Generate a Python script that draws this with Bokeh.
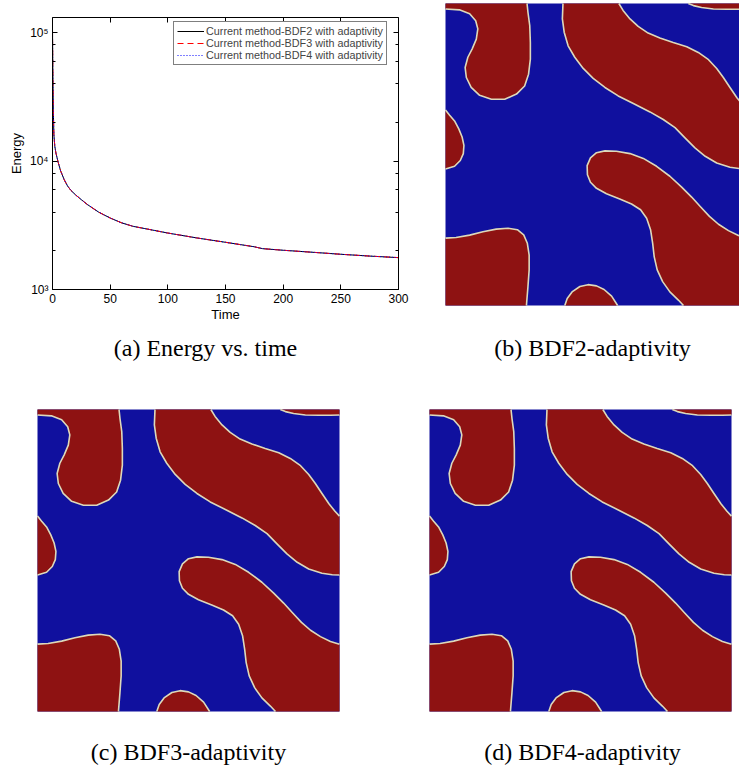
from bokeh.plotting import figure
from bokeh.models import (Range1d, LinearAxis, LogAxis, SingleIntervalTicker, LogTicker,
                          Legend, LegendItem, LogScale, LinearScale)
from bokeh.embed import file_html
from bokeh.resources import INLINE
from bokeh.core.properties import value

# ---------------- data: energy vs time ----------------
time = [0, 0.3, 0.7, 1.2, 2, 3, 5, 7, 10, 13, 16, 20, 25, 30, 40, 50, 60, 70, 80,
        100, 125, 150, 175, 182, 200, 225, 250, 275, 300]
energy_bdf2 = [1.05e5, 5.0e4, 2.5e4, 1.6e4, 1.3e4, 1.15e4, 9.7e3, 8.4e3, 7.2e3, 6.4e3,
               5.9e3, 5.45e3, 5.0e3, 4.6e3, 4.0e3, 3.6e3, 3.3e3, 3.1e3, 2.98e3,
               2.75e3, 2.52e3, 2.33e3, 2.15e3, 2.08e3, 2.02e3, 1.95e3, 1.88e3, 1.82e3, 1.77e3]
energy_bdf3 = [1.05e5, 5.0e4, 2.5e4, 1.6e4, 1.3e4, 1.15e4, 9.7e3, 8.4e3, 7.2e3, 6.4e3,
               5.9e3, 5.45e3, 5.0e3, 4.6e3, 4.0e3, 3.6e3, 3.3e3, 3.1e3, 2.98e3,
               2.75e3, 2.52e3, 2.33e3, 2.15e3, 2.08e3, 2.02e3, 1.95e3, 1.88e3, 1.82e3, 1.77e3]
energy_bdf4 = [1.05e5, 5.0e4, 2.5e4, 1.6e4, 1.3e4, 1.15e4, 9.7e3, 8.4e3, 7.2e3, 6.4e3,
               5.9e3, 5.45e3, 5.0e3, 4.6e3, 4.0e3, 3.6e3, 3.3e3, 3.1e3, 2.98e3,
               2.75e3, 2.52e3, 2.33e3, 2.15e3, 2.08e3, 2.02e3, 1.95e3, 1.88e3, 1.82e3, 1.77e3]
series_labels = ["Current method-BDF2 with adaptivity",
                 "Current method-BDF3 with adaptivity",
                 "Current method-BDF4 with adaptivity"]
time_limits = [0, 300]
energy_limits = [1000, 10 ** (5 + 15 / 128.5)]
x_tick_interval = 50
y_tick_labels = {1000: "10\u00b3", 10000: "10\u2074", 100000: "10\u2075"}
captions = ["(a) Energy vs. time", "(b) BDF2-adaptivity",
            "(c) BDF3-adaptivity", "(d) BDF4-adaptivity"]

# ---------------- data: phase field interfaces (unit square) ----------------
domain = [0.0, 1.0]
A_u = [0.0, 0.046, 0.080, 0.100, 0.107, 0.102, 0.088, 0.074, 0.065, 0.069, 0.085, 0.113, 0.152,
       0.196, 0.235, 0.262, 0.275, 0.281, 0.281, 0.279, 0.273, 0.270]
A_v = [0.982, 0.979, 0.966, 0.943, 0.916, 0.882, 0.849, 0.822, 0.788, 0.755, 0.722, 0.696, 0.683,
       0.683, 0.700, 0.727, 0.766, 0.816, 0.871, 0.927, 0.971, 1.0]
Blo_u = [0.389, 0.387, 0.393, 0.406, 0.428, 0.456, 0.489, 0.528, 0.572, 0.622, 0.677, 0.721,
         0.760, 0.793, 0.826, 0.860, 0.898, 0.942, 0.976, 1.0]
Blo_v = [1.0, 0.949, 0.905, 0.860, 0.822, 0.785, 0.752, 0.722, 0.694, 0.669, 0.641, 0.616,
         0.589, 0.555, 0.522, 0.494, 0.472, 0.458, 0.453, 0.452]
Bhi_u = [0.574, 0.588, 0.611, 0.638, 0.671, 0.710, 0.754, 0.799, 0.837, 0.871, 0.898, 0.920,
         0.942, 0.965, 0.985, 1.0]
Bhi_v = [1.0, 0.977, 0.949, 0.924, 0.902, 0.886, 0.871, 0.857, 0.838, 0.814, 0.785, 0.755,
         0.722, 0.688, 0.663, 0.647]
C_u = [0.804, 0.821, 0.848, 0.887, 0.931, 0.970, 1.0]
C_v = [1.0, 0.993, 0.987, 0.982, 0.981, 0.981, 0.982]
D_u = [0.0, 0.013, 0.030, 0.044, 0.055, 0.061, 0.059, 0.049, 0.030, 0.0]
D_v = [0.647, 0.631, 0.611, 0.585, 0.558, 0.530, 0.503, 0.480, 0.461, 0.452]
E_u = [0.0, 0.035, 0.080, 0.124, 0.168, 0.207, 0.238, 0.259, 0.271, 0.277, 0.277, 0.273, 0.268]
E_v = [0.223, 0.225, 0.233, 0.244, 0.253, 0.256, 0.251, 0.234, 0.206, 0.167, 0.118, 0.062, 0.0]
F_u = [0.395, 0.403, 0.419, 0.445, 0.472, 0.500, 0.525, 0.550, 0.570]
F_v = [0.0, 0.023, 0.045, 0.063, 0.069, 0.065, 0.053, 0.031, 0.0]
G_u = [1.0, 0.970, 0.937, 0.904, 0.874, 0.845, 0.815, 0.782, 0.743, 0.699, 0.655, 0.611, 0.566,
       0.528, 0.500, 0.480, 0.469, 0.470, 0.480, 0.500, 0.533, 0.577, 0.616, 0.646, 0.666, 0.679,
       0.686, 0.691, 0.701, 0.719, 0.743, 0.771, 0.788]
G_v = [0.223, 0.232, 0.248, 0.269, 0.295, 0.326, 0.359, 0.392, 0.428, 0.461, 0.487, 0.503, 0.511,
       0.512, 0.506, 0.489, 0.463, 0.433, 0.408, 0.388, 0.370, 0.353, 0.336, 0.317, 0.289, 0.251,
       0.206, 0.162, 0.118, 0.079, 0.045, 0.018, 0.0]

lo, hi = domain
region_xs = [A_u + [lo], Blo_u + Bhi_u[::-1], C_u + [hi], D_u, E_u + [lo], F_u, G_u + [hi]]
region_ys = [A_v + [hi], Blo_v + Bhi_v[::-1], C_v + [hi], D_v, E_v + [lo], F_v, G_v + [lo]]
iface_xs = [A_u, Blo_u, Bhi_u, C_u, D_u, E_u, F_u, G_u]
iface_ys = [A_v, Blo_v, Bhi_v, C_v, D_v, E_v, F_v, G_v]

# ---------------- styles / layout constants (pixels) ----------------
BLUE = "#10109e"
RED = "#8e1212"
EDGE = "#ddd9bb"
CAP_FONT = "Liberation Serif"
CAP_SIZE = "24px"
AX_FONT = "Liberation Sans"
W, H = 739, 768

# energy axes box in page pixels
BOX_L, BOX_R, BOX_T, BOX_B = 52, 398, 17, 289
DEC_PX = (BOX_B - BOX_T) / (5 + 15 / 128.5 - 3)

p = figure(width=W, height=H, x_range=Range1d(0, W), y_range=Range1d(H, 0),
           output_backend="svg", toolbar_location=None,
           x_axis_location=None, y_axis_location=None, min_border=0)
p.grid.visible = False
p.outline_line_color = None
p.background_fill_color = "white"
p.border_fill_color = "white"

# named ranges for the energy panel (linear time, log energy)
tpp = (time_limits[1] - time_limits[0]) / (BOX_R - BOX_L)
lg_bot = 3 - (H - BOX_B) / DEC_PX
lg_top = 3 + BOX_B / DEC_PX
p.extra_x_ranges = {"t": Range1d(time_limits[0] - BOX_L * tpp, time_limits[1] + (W - BOX_R) * tpp)}
p.extra_y_ranges = {"E": Range1d(10 ** lg_bot, 10 ** lg_top)}
p.extra_x_scales = {"t": LinearScale()}
p.extra_y_scales = {"E": LogScale()}

# named ranges for the three images
S = 302.0
squares = {"b": (445, 305), "c": (37, 711), "d": (429, 711)}   # left px, bottom px
for name, (px0, pyb) in squares.items():
    p.extra_x_ranges[name] = Range1d(-px0 / S, (W - px0) / S)
    p.extra_y_ranges[name] = Range1d((pyb - H) / S, pyb / S)
    p.extra_x_scales[name] = LinearScale()
    p.extra_y_scales[name] = LinearScale()

# ---------------- energy panel ----------------
kw = dict(x_range_name="t", y_range_name="E")
r2 = p.line(time, energy_bdf2, line_color="black", line_width=1, **kw)
r3 = p.line(time, energy_bdf3, line_color="red", line_width=1, line_dash="6 4", **kw)
r4 = p.line(time, energy_bdf4, line_color="blue", line_width=1, line_dash="1 2", **kw)


def style_axis(ax, labels=True):
    ax.major_tick_in = 5
    ax.major_tick_out = 0
    ax.minor_tick_in = 3
    ax.minor_tick_out = 0
    ax.axis_line_color = "black"
    ax.major_tick_line_color = "black"
    ax.minor_tick_line_color = "black"
    ax.major_label_text_font = AX_FONT
    ax.major_label_text_font_size = "12px"
    ax.major_label_text_color = "black"
    ax.axis_label_text_font = AX_FONT
    ax.axis_label_text_font_size = "13px"
    ax.axis_label_text_font_style = "normal"
    ax.axis_label_text_color = "black"
    ax.major_label_standoff = 4
    if not labels:
        ax.major_label_text_alpha = 0
        ax.major_label_text_font_size = "1px"


x_bottom = LinearAxis(ticker=SingleIntervalTicker(interval=x_tick_interval, num_minor_ticks=0),
                      fixed_location=energy_limits[0], bounds=tuple(time_limits),
                      axis_label="Time", axis_label_standoff=1, **kw)
x_top = LinearAxis(ticker=SingleIntervalTicker(interval=x_tick_interval, num_minor_ticks=0),
                   fixed_location=energy_limits[1], bounds=tuple(time_limits), **kw)
y_left = LogAxis(ticker=LogTicker(), fixed_location=time_limits[0], bounds=tuple(energy_limits),
                 axis_label="Energy", axis_label_standoff=3,
                 major_label_overrides=y_tick_labels, **kw)
y_right = LogAxis(ticker=LogTicker(), fixed_location=time_limits[1], bounds=tuple(energy_limits), **kw)
style_axis(x_bottom)
style_axis(y_left)
style_axis(x_top, labels=False)
style_axis(y_right, labels=False)
p.add_layout(x_bottom, "below")
p.add_layout(x_top, "above")
p.add_layout(y_left, "left")
p.add_layout(y_right, "right")

leg = Legend(items=[LegendItem(label=series_labels[0], renderers=[r2]),
                    LegendItem(label=series_labels[1], renderers=[r3]),
                    LegendItem(label=series_labels[2], renderers=[r4])],
             location=(173, H - 65), margin=0, padding=3, spacing=0,
             label_height=12, glyph_height=12, glyph_width=27, label_standoff=2,
             label_text_font=AX_FONT, label_text_font_size="10.8px",
             border_line_color="black", border_line_width=1,
             background_fill_color="white", background_fill_alpha=1)
p.add_layout(leg, "center")

# ---------------- image panels ----------------
for name in ["b", "c", "d"]:
    ik = dict(x_range_name=name, y_range_name=name)
    p.quad(left=[domain[0]], right=[domain[1]], bottom=[domain[0]], top=[domain[1]],
           fill_color=BLUE, line_color=None, **ik)
    p.patches(region_xs, region_ys, fill_color=RED, line_color=None, **ik)
    p.multi_line(iface_xs, iface_ys, line_color=EDGE, line_width=1.6, line_join="round", **ik)

# ---------------- captions (page pixels) ----------------
cap_x = [205, 592, 188, 582]
cap_y = [347, 347, 751, 751]
p.text(x=cap_x, y=cap_y, text=captions, text_align="center", text_baseline="alphabetic",
       text_font=value(CAP_FONT), text_font_size=CAP_SIZE, text_color="black")

open("out.html", "w").write(file_html(p, INLINE))
